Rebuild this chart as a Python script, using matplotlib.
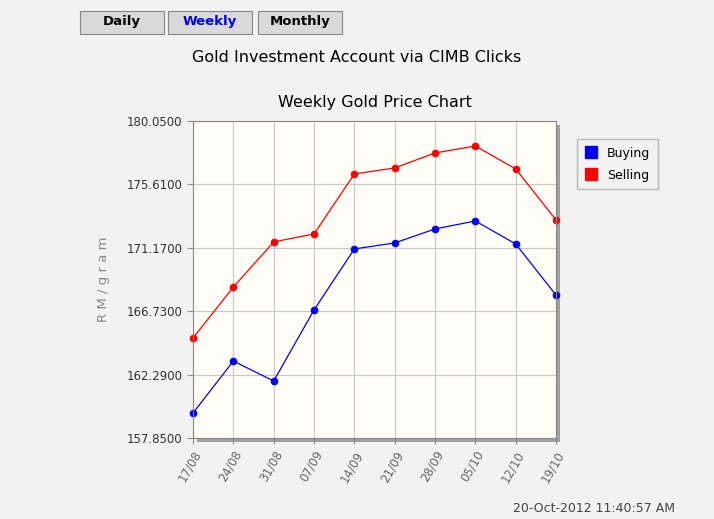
import matplotlib
matplotlib.use("Agg")
import matplotlib.pyplot as plt
from matplotlib.patches import Rectangle

weeks = ['17/08', '24/08', '31/08', '07/09', '14/09', '21/09', '28/09', '05/10', '12/10', '19/10']
buying = [159.60, 163.24, 161.84, 166.81, 171.09, 171.51, 172.49, 173.05, 171.44, 167.86]
selling = [164.85, 168.42, 171.58, 172.14, 176.34, 176.76, 177.81, 178.30, 176.69, 173.12]
yticks = [157.85, 162.29, 166.73, 171.17, 175.61, 180.05]
buttons = ['Daily', 'Weekly', 'Monthly']

W, H = 714, 519
fig = plt.figure(figsize=(W / 100, H / 100), dpi=100, facecolor='#f2f2f2')

# shadow behind the plot area
sh = fig.add_axes([197 / W, (519 - 442) / H, 363 / W, 317 / H])
sh.set_facecolor('#a0a0a0')
sh.axis('off')
sh.add_patch(Rectangle((0, 0), 1, 1, transform=sh.transAxes, color='#a0a0a0'))

ax = fig.add_axes([193 / W, (519 - 438) / H, 363 / W, 317 / H])
ax.set_facecolor('#fffdf5')
x = range(len(weeks))
ax.plot(x, buying, color='blue', lw=0.9, marker='o', ms=4.5, label='Buying', clip_on=False)
ax.plot(x, selling, color='red', lw=0.9, marker='o', ms=4.5, label='Selling', clip_on=False)
ax.set_xlim(0, len(weeks) - 1)
ax.set_ylim(yticks[0], yticks[-1])
ax.set_yticks(yticks)
ax.set_yticklabels(['%.4f' % v for v in yticks], fontsize=8.5, color='#333333')
ax.set_xticks(list(x))
ax.set_xticklabels(weeks, rotation=60, fontsize=8.5, color='#666666', ha='right', rotation_mode='anchor')
ax.grid(True, color='#c8c8c8', lw=0.8)
ax.tick_params(length=4, color='#888888')
for s in ax.spines.values():
    s.set_color('#888888')
ax.set_ylabel('R M / g r a m', fontsize=9.5, color='#888888', labelpad=12)
ax.set_title('Weekly Gold Price Chart', fontsize=11.5, pad=10)

leg = ax.legend(loc='upper left', bbox_to_anchor=(571 / W, 1 - 133 / H), bbox_transform=fig.transFigure,
                fontsize=9, frameon=True, fancybox=False, edgecolor='#aaaaaa', handlelength=1,
                handleheight=1, borderpad=0.6, labelspacing=0.7, facecolor='#f2f2f2')
for h in leg.legend_handles:
    h.set_linestyle('None')
    h.set_marker('s')
    h.set_markersize(9)

fig.text(0.5, 1 - 57 / H, 'Gold Investment Account via CIMB Clicks', ha='center', va='center', fontsize=11.5)
fig.text(675 / W, 1 - 508 / H, '20-Oct-2012 11:40:57 AM', ha='right', va='center', fontsize=9, color='#444444')

bx = [80, 168, 258]
bw = [84, 84, 84]
for b, x0, w in zip(buttons, bx, bw):
    fig.patches.append(Rectangle((x0 / W, 1 - 34 / H), w / W, 23 / H,
                                 transform=fig.transFigure, facecolor='#d9d9d9', edgecolor='#888888', lw=0.8))
    fig.text((x0 + w / 2) / W, 1 - 22 / H, b, ha='center', va='center', fontsize=9.5, fontweight='bold',
             color='blue' if b == 'Weekly' else 'black')

fig.savefig('out.png', dpi=100, facecolor=fig.get_facecolor())
